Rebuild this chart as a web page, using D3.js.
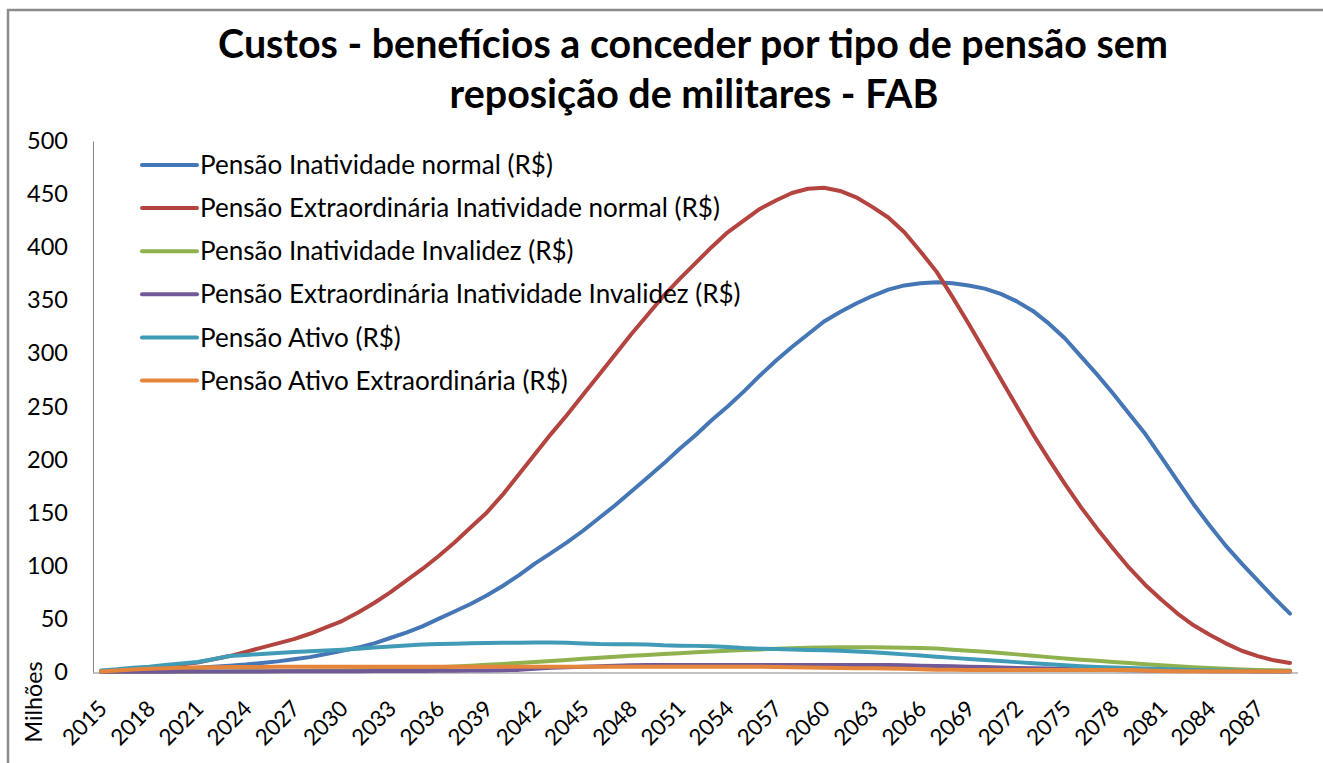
<!DOCTYPE html>
<html>
<head>
<meta charset="utf-8">
<script src="https://cdn.jsdelivr.net/npm/d3@7"></script>
<style>
  body { margin: 0; background: #fff; overflow: hidden; }
  svg { display: block; font-family: Lato, "Open Sans", sans-serif; }
</style>
</head>
<body>
<svg id="chart" width="1323" height="763"></svg>
<script>
let width = 1323, height = 763;

// anos 2015..2089 (valores em milhões de R$)
let years = d3.range(2015, 2090);
let tickYears = d3.range(2015, 2090, 3);
let yTicks = d3.range(0, 501, 50);

let titleLines = ["Custos - benefícios a conceder por tipo de pensão sem",
                  "reposição de militares - FAB"];

let seriesNames = ["Pensão Inatividade normal (R$)",
                   "Pensão Extraordinária Inatividade normal (R$)",
                   "Pensão Inatividade Invalidez (R$)",
                   "Pensão Extraordinária Inatividade Invalidez (R$)",
                   "Pensão Ativo (R$)",
                   "Pensão Ativo Extraordinária (R$)"];
let seriesColors = ["#4576b5", "#b3443f", "#8fb24e", "#715899", "#409bb7", "#e5843b"];

let inatNormal = [0.5, 0.8, 1.2, 1.8, 2.5, 3.2, 4, 5, 6, 7,
  8.5, 10, 12, 14, 17, 20, 23, 27, 32, 37,
  43, 50, 57, 64, 72, 81, 91, 102, 112, 122,
  133, 145, 157, 170, 183, 196, 210, 223, 237, 250,
  264, 279, 293, 306, 318, 330, 339, 347, 354, 360,
  364, 366, 367, 366, 364, 361, 356, 349, 340, 328,
  314, 297, 280, 262, 243, 224, 202, 180, 158, 138,
  119, 102, 86, 70, 55];

let extraInatNormal = [0.5, 1.5, 2.5, 4, 5.5, 7, 9, 12, 15, 19,
  23, 27, 31, 36, 42, 48, 56, 65, 75, 86,
  97, 109, 122, 136, 150, 167, 186, 205, 224, 242,
  261, 280, 299, 318, 336, 354, 370, 385, 400, 414,
  425, 436, 444, 451, 455, 456, 453, 447, 438, 428,
  414, 396, 377, 353, 328, 302, 276, 250, 224, 200,
  177, 155, 135, 116, 98, 82, 68, 55, 44, 35,
  27, 20, 15, 11, 8.5];

let inatInvalidez = [0.1, 0.1, 0.2, 0.2, 0.3, 0.3, 0.4, 0.4, 0.5, 0.6,
  0.7, 0.8, 0.9, 1.1, 1.3, 1.5, 2, 2.5, 3, 3.5,
  4, 4.5, 5.2, 6, 6.8, 7.6, 8.5, 9.4, 10.4, 11.4,
  12.4, 13.4, 14.4, 15.3, 16.1, 16.9, 17.7, 18.5, 19.2, 19.9,
  20.6, 21.3, 21.9, 22.4, 22.8, 23.1, 23.2, 23.3, 23.2, 23.1,
  22.9, 22.6, 22.1, 21, 20, 19, 17.8, 16.6, 15.3, 14,
  12.8, 11.6, 10.5, 9.5, 8.5, 7.4, 6.4, 5.4, 4.5, 3.7,
  3, 2.4, 2, 1.7, 1.5];

let extraInatInvalidez = [0.2, 0.2, 0.3, 0.3, 0.3, 0.4, 0.4, 0.4, 0.5, 0.5,
  0.5, 0.6, 0.6, 0.7, 0.7, 0.8, 0.8, 0.9, 0.9, 1,
  1, 1.1, 1.2, 1.3, 1.5, 1.7, 2, 3, 4, 4.5,
  5, 5.5, 6, 6.3, 6.5, 6.5, 6.5, 6.5, 6.5, 6.5,
  6.5, 6.5, 6.5, 6.5, 6.5, 6.5, 6.5, 6.5, 6.5, 6.5,
  6.3, 6, 5.7, 5.3, 5, 4.6, 4.2, 3.8, 3.5, 3.2,
  2.8, 2.5, 2.2, 2, 1.7, 1.5, 1.2, 1, 0.9, 0.8,
  0.7, 0.6, 0.5, 0.5, 0.4];

let ativo = [1.5, 2.5, 4, 5, 6.5, 8, 9.5, 12, 15, 16,
  17, 18, 18.8, 19.5, 20.3, 21, 22, 23, 24, 25,
  25.8, 26.3, 26.6, 27, 27.3, 27.5, 27.6, 27.7, 27.7, 27.5,
  26.8, 26.3, 26.2, 26.2, 26, 25.2, 24.8, 24.6, 24.3, 23.5,
  22.5, 22, 21.6, 21.2, 20.8, 20.5, 20, 19.3, 18.5, 17.6,
  16.6, 15.5, 14.4, 13.3, 12.3, 11.3, 10.3, 9.3, 8.3, 7.3,
  6.4, 5.5, 4.8, 4.2, 3.7, 3.3, 2.8, 2.4, 2, 1.7,
  1.4, 1.2, 1, 0.9, 0.8];

let ativoExtra = [0.5, 1.5, 2.3, 3, 3.5, 4, 4.3, 4.5, 4.6, 4.7,
  4.8, 4.9, 5, 5, 5, 5, 5, 5, 5, 5,
  5, 5, 5, 5, 5, 5, 5, 5, 5, 5,
  5, 5, 5, 5, 5, 5, 5, 5, 5, 5,
  5, 5, 4.8, 4.5, 4.2, 3.9, 3.7, 3.6, 3.5, 3.3,
  3, 2.5, 2.2, 2.1, 2, 2, 2, 2, 2, 2,
  2, 2, 2, 2, 2, 1.5, 1, 0.8, 0.8, 0.8,
  0.8, 0.8, 0.8, 0.8, 0.8];

let seriesValues = [inatNormal, extraInatNormal, inatInvalidez,
                    extraInatInvalidez, ativo, ativoExtra];

let svg = d3.select("#chart");

// ajusta o tamanho da fonte para a largura medida na imagem
function fitWidth(sel, w) {
    let len = sel.node().getComputedTextLength();
    let fs = parseFloat(sel.style("font-size"));
    let nfs = fs * w / len;
    sel.style("font-size", nfs + "px");
    return nfs;
}

// moldura (so topo e esquerda ficam visiveis)
svg.append("path")
    .attr("d", "M8,763V10H1323")
    .attr("fill", "none")
    .attr("stroke", "#8c8c8c")
    .attr("stroke-width", 2.5);

let x = d3.scalePoint().domain(years).range([93, 1298]).padding(0.5);
let y = d3.scaleLinear().domain([0, 500]).range([672, 141]);

// titulo
let t1 = svg.append("text")
    .attr("x", 693).attr("y", 58)
    .attr("text-anchor", "middle")
    .style("font-weight", "bold")
    .style("font-size", "36px")
    .style("fill", "#000")
    .text(titleLines[0]);
let titleSize = fitWidth(t1, 950);
svg.append("text")
    .attr("x", 694).attr("y", 108)
    .attr("text-anchor", "middle")
    .style("font-weight", "bold")
    .style("font-size", titleSize + "px")
    .style("fill", "#000")
    .text(titleLines[1]);

// eixo y
let y_axis = svg.append("g")
    .attr("transform", "translate(93,0)")
    .call(d3.axisLeft(y).tickValues(yTicks).tickSize(0).tickPadding(25));
y_axis.select(".domain").attr("stroke", "#868686");
y_axis.selectAll("text")
    .style("font-family", "Lato, 'Open Sans', sans-serif")
    .style("font-size", "26px")
    .style("fill", "#000");
let tickSize = fitWidth(y_axis.selectAll("text").filter(d => d === 500), 41);
y_axis.selectAll("text").style("font-size", tickSize + "px");

// eixo x
let x_axis = svg.append("g")
    .attr("transform", "translate(0,673)")
    .call(d3.axisBottom(x).tickValues(tickYears).tickSize(0).tickFormat(d3.format("d")));
x_axis.select(".domain").attr("stroke", "#868686").attr("d", "M93,0H1298");
let xLabels = x_axis.selectAll("text")
    .style("font-family", "Lato, 'Open Sans', sans-serif")
    .style("font-size", tickSize + "px")
    .style("fill", "#000")
    .attr("text-anchor", "end")
    .attr("y", 0).attr("dy", "0")
    .attr("transform", "translate(7,37) rotate(-45)");
let xSize = fitWidth(xLabels.filter(d => d === 2015), 52);
xLabels.style("font-size", xSize + "px");

// rotulo Milhões
let mil = svg.append("text")
    .attr("transform", "translate(42,702) rotate(-90)")
    .attr("text-anchor", "middle")
    .style("font-size", "24px")
    .style("fill", "#000")
    .text("Milhões");
fitWidth(mil, 81);

// linhas
let line = d3.line()
    .x((d, i) => x(years[i]))
    .y(d => y(d));

svg.append("g").attr("class", "lines")
  .selectAll("path")
  .data(seriesValues)
  .join("path")
    .attr("d", line)
    .attr("fill", "none")
    .attr("stroke", (d, i) => seriesColors[i])
    .attr("stroke-width", 4)
    .attr("stroke-linejoin", "round")
    .attr("stroke-linecap", "round");

// legenda
let legend = svg.append("g").attr("class", "legend");
let rows = legend.selectAll("g")
    .data(seriesNames)
    .join("g")
    .attr("transform", (d, i) => `translate(142,${165 + i * 43.1})`);
rows.append("line")
    .attr("x1", 0).attr("x2", 55)
    .attr("stroke", (d, i) => seriesColors[i])
    .attr("stroke-width", 4)
    .attr("stroke-linecap", "round");
let labels = rows.append("text")
    .attr("x", 58)
    .attr("dy", "0.35em")
    .style("font-size", "26px")
    .style("fill", "#000")
    .text(d => d);
let legendSize = fitWidth(labels.filter((d, i) => i === 0), 353);
labels.style("font-size", legendSize + "px");
</script>
</body>
</html>
